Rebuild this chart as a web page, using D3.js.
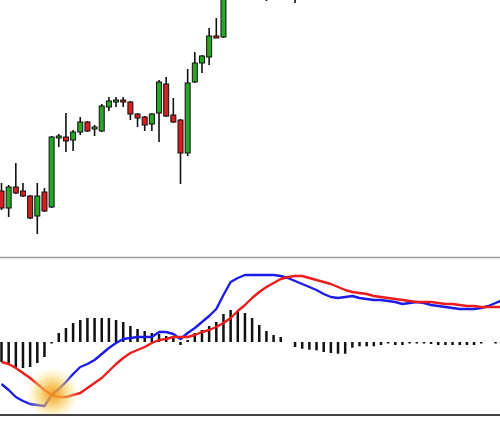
<!DOCTYPE html>
<html>
<head>
<meta charset="utf-8">
<script src="https://cdn.jsdelivr.net/npm/d3@7"></script>
<style>
html,body{margin:0;padding:0;background:#fff;}
svg{display:block;}
</style>
</head>
<body>
<svg id="chart" width="500" height="443"></svg>
<script>
// ---- Data ----
// Candles: open, high, low, close (price units)
const candleOpen  = [69,52,73,69,64,44,68,53,122,123,120,128,138,131,129,153,158,160,158,146,143,136,147,176,145,140,107,178,197,203,224,223,280,295,310,322,300,275,290,305,300,280];
const candleHigh  = [77,75,97,77,65,77,72,124,126,147,130,143,139,135,156,163,163,163,159,147,144,147,180,183,162,141,191,208,205,232,242,285,300,320,330,335,305,300,310,320,310,300];
const candleLow   = [50,43,66,63,41,26,48,52,113,108,109,125,128,124,128,149,153,153,140,133,129,129,118,143,137,76,104,177,187,195,222,222,275,285,300,290,262,259,270,285,270,257];
const candleClose = [52,73,67,64,42,64,49,123,124,119,128,138,129,133,154,159,160,158,146,142,135,146,178,144,138,107,177,197,204,224,222,280,295,310,322,300,280,290,305,300,280,268];

// MACD histogram
const histogram = [-20,-21,-25,-26,-25,-21,-15,-1.5,9,14,19,22,24,24,24,24,22,20,16,13,11,9,8,6,5,-3,2,9,12,16,20,28,32,30,29,24,17,11,7,5,0,-5,-6.7,-7.7,-8.3,-10,-11,-11.7,-11.7,-5.7,-4.3,-4.3,-4.3,-3,-1.5,-3,-3,-1.5,-1.5,-1.5,-2,-3,-3,-3,-3,-3,-3,-1.5,0,-1.5];
// MACD main line (blue) and signal line (red)
const macdLine = [-42,-48,-55,-59,-62,-63,-64,-53,-47,-40,-32,-25,-22,-18,-12,-6,-1,3,4,5,5,5,10,10,8,3,9,14,20,26,33,47,60,64,67,67,67,67,67,66,64,61,58,55,52,48,45,44,45,46,44,43,42,42,41,40,38,39,40,39,37,36,35,34,33,33,33,34,36,39,42];
const signalLine = [-20,-22,-26,-31,-36,-42,-48,-53,-55,-55,-53,-51,-46,-41,-36,-29,-22,-16,-11,-8,-5,-1,2,3,5,5,5,7,10,12,15,19,24,31,37,44,50,55,59,63,65,66,66,64,62,60,58,55,52,50,49,48,46,45,44,43,42,41,40,40,40,39,38,38,37,36,36,35,35,35,35];

// ---- Layout ----
const W = 500, H = 443;
const svg = d3.select("#chart");

const x = d3.scaleLinear().domain([0, 69]).range([1.5, 1.5 + 7.16 * 69]);
const yP = d3.scaleLinear().domain([0, 260]).range([260, 0]);
const yM = d3.scaleLinear().domain([-100, 100]).range([442, 242]);

const green = "#26a826", red = "#d42020";

// Price panel
const pricePanel = svg.append("g");
pricePanel.append("clipPath").attr("id","clipP").append("rect").attr("x",0).attr("y",0).attr("width",W).attr("height",256);
const pc = pricePanel.append("g").attr("clip-path","url(#clipP)");
const candles = candleOpen.map((o,i)=>({i, o, h:candleHigh[i], l:candleLow[i], c:candleClose[i]}));
const cg = pc.selectAll("g.c").data(candles).join("g").attr("class","c");
cg.append("line")
  .attr("x1", d=>x(d.i)).attr("x2", d=>x(d.i))
  .attr("y1", d=>yP(d.h)).attr("y2", d=>yP(d.l))
  .attr("stroke","#111").attr("stroke-width",1.6);
cg.append("rect")
  .attr("x", d=>x(d.i)-2.5).attr("width",5)
  .attr("y", d=>yP(Math.max(d.o,d.c)))
  .attr("height", d=>Math.max(1.5, Math.abs(yP(d.o)-yP(d.c))))
  .attr("fill", d=>d.c>=d.o?green:red)
  .attr("stroke","#111").attr("stroke-width",1);

// MACD panel
svg.append("line").attr("x1",0).attr("x2",W).attr("y1",257.5).attr("y2",257.5)
  .attr("stroke","#9a9a9a").attr("stroke-width",1.5);
svg.append("line").attr("x1",0).attr("x2",W).attr("y1",415).attr("y2",415)
  .attr("stroke","#444").attr("stroke-width",2);

const mp = svg.append("g");
mp.append("clipPath").attr("id","clipM").append("rect").attr("x",0).attr("y",259).attr("width",W).attr("height",155);
const mc = mp.append("g").attr("clip-path","url(#clipM)");

mc.selectAll("rect.h").data(histogram).join("rect").attr("class","h")
  .attr("x",(d,i)=>x(i)-1.25).attr("width",2.5)
  .attr("y",d=>yM(Math.max(0,d)))
  .attr("height",d=>Math.abs(yM(d)-yM(0)))
  .attr("fill","#111");

const line = d3.line().x((d,i)=>x(i)).y(d=>yM(d)).curve(d3.curveLinear);
mc.append("path").datum(macdLine).attr("d",line).attr("fill","none")
  .attr("stroke","#1c1ce8").attr("stroke-width",2.4).attr("stroke-linejoin","round");
mc.append("path").datum(signalLine).attr("d",line).attr("fill","none")
  .attr("stroke","#ec1c1c").attr("stroke-width",2.4).attr("stroke-linejoin","round");

// Glow at the bullish crossover (computed from the data)
let cx = null, cy = null;
for (let i = 1; i < macdLine.length; i++) {
  const d0 = macdLine[i-1]-signalLine[i-1], d1 = macdLine[i]-signalLine[i];
  if (d0 < 0 && d1 >= 0) {
    const t = d0/(d0-d1);
    cx = x(i-1 + t);
    cy = yM(macdLine[i-1] + t*(macdLine[i]-macdLine[i-1]));
    break;
  }
}
const defs = svg.append("defs");
const rg = defs.append("radialGradient").attr("id","glow");
rg.append("stop").attr("offset","0%").attr("stop-color","#f29518").attr("stop-opacity",0.9);
rg.append("stop").attr("offset","30%").attr("stop-color","#f5b232").attr("stop-opacity",0.78);
rg.append("stop").attr("offset","62%").attr("stop-color","#f8d260").attr("stop-opacity",0.5);
rg.append("stop").attr("offset","100%").attr("stop-color","#fff2b0").attr("stop-opacity",0);
if (cx !== null) {
  mc.append("circle").attr("cx",cx+1).attr("cy",cy-1).attr("r",27).attr("fill","url(#glow)");
}
</script>
</body>
</html>
